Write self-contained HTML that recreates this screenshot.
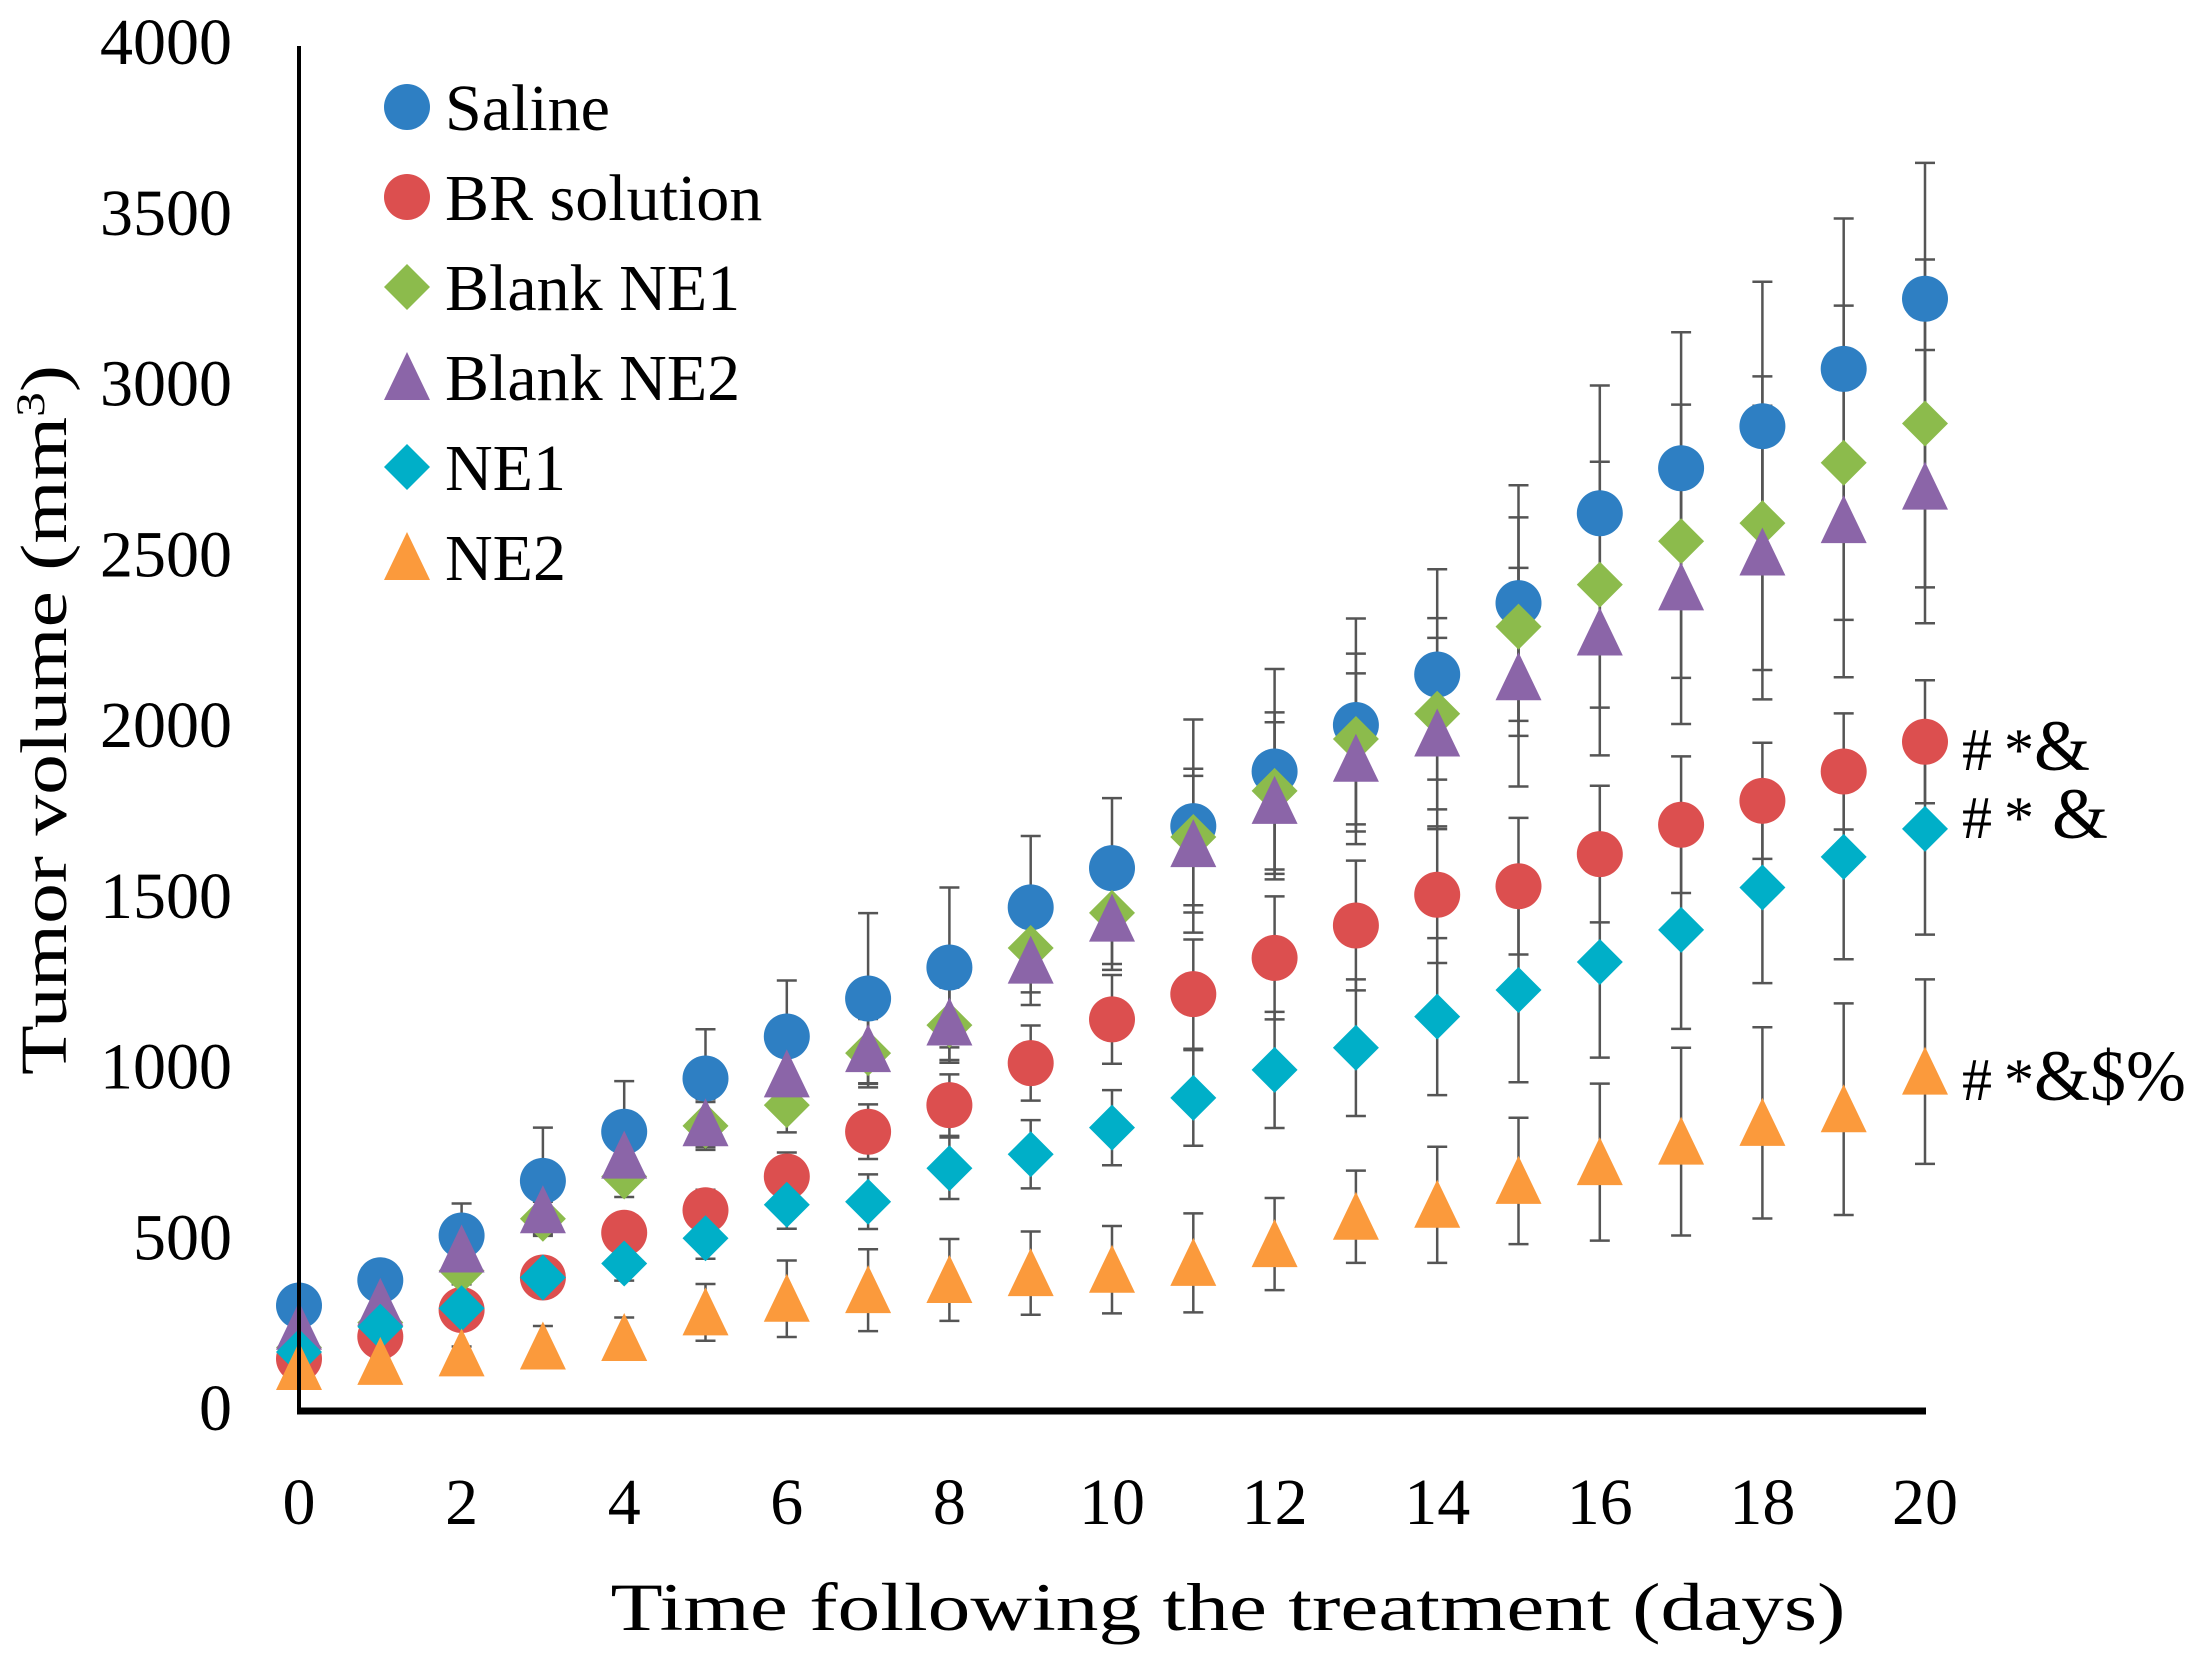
<!DOCTYPE html>
<html><head><meta charset="utf-8">
<style>
html,body{margin:0;padding:0;background:#fff;}
svg{display:block;font-family:"Liberation Serif",serif;}
</style></head>
<body>
<svg id="chart" width="2201" height="1667" viewBox="0 0 2201 1667" xmlns="http://www.w3.org/2000/svg">
<rect width="2201" height="1667" fill="#fff"/>
<g id="errs"></g>
<g id="marks"></g>
<line x1="299" y1="46" x2="299" y2="1411" stroke="#000" stroke-width="4"/>
<line x1="297" y1="1411" x2="1926" y2="1411" stroke="#000" stroke-width="7"/>
<g id="yticks"></g>
<g id="xticks"></g>
<text x="66" y="720" font-size="66" text-anchor="middle" transform="rotate(-90 66 720)" textLength="710" lengthAdjust="spacingAndGlyphs">Tumor volume (mm<tspan baseline-shift="super" font-size="40">3</tspan>)</text>
<text x="1228" y="1630" font-size="68" text-anchor="middle" textLength="1235" lengthAdjust="spacingAndGlyphs">Time following the treatment (days)</text>
<g id="legend"></g>
<g font-size="60">
<text x="1962" y="770">#<tspan dx="12">*</tspan><tspan font-size="72">&amp;</tspan></text>
<text x="1962" y="838">#<tspan dx="12">*</tspan><tspan dx="18" font-size="72">&amp;</tspan></text>
<text x="1962" y="1100">#<tspan dx="12">*</tspan><tspan font-size="72">&amp;$%</tspan></text>
</g>
</svg>
<script>
const days = [0,1,2,3,4,5,6,7,8,9,10,11,12,13,14,15,16,17,18,19,20];
const yTicks = [0,500,1000,1500,2000,2500,3000,3500,4000];
const xTicks = [0,2,4,6,8,10,12,14,16,18,20];
const salineVals = [300,374,505,665,809,965,1088,1199,1290,1466,1581,1704,1864,2000,2148,2357,2620,2752,2875,3043,3248];
const salineErr = [20,25,94,156,148,144,164,250,234,209,205,312,300,312,308,345,374,398,423,440,398];
const brVals = [144,209,287,382,513,579,678,809,887,1010,1138,1212,1318,1413,1503,1528,1622,1708,1778,1864,1951];
const brErr = [20,25,30,40,50,60,70,80,90,110,130,160,180,190,200,200,200,200,170,170,180];
const blank1Vals = [177,250,402,554,678,826,887,1039,1121,1347,1450,1672,1807,1959,2033,2288,2411,2538,2591,2768,2883];
const blank1Err = [20,25,40,50,60,70,80,100,110,130,150,200,230,250,280,320,360,400,430,460,480];
const blank2Vals = [238,308,464,579,739,834,977,1051,1129,1310,1433,1651,1778,1901,1975,2140,2271,2403,2505,2600,2698];
const blank2Err = [20,25,40,50,60,70,80,100,110,130,150,200,230,250,280,320,360,400,430,460,400];
const ne1Vals = [164,238,292,382,423,497,595,604,702,743,821,908,990,1055,1146,1224,1306,1400,1524,1614,1696];
const ne1Err = [20,25,30,40,50,60,70,80,90,100,110,140,170,200,230,270,280,290,280,300,310];
const ne2Vals = [120,135,160,180,205,280,320,345,375,395,405,425,480,560,595,665,720,780,835,875,985];
const ne2Err = [10,15,20,60,60,83,112,120,120,122,128,145,135,135,170,185,230,275,280,310,270];

const X = d => 299 + d * (1925 - 299) / 20;
const Y = v => 1408 - v * 0.3415;
const NS = "http://www.w3.org/2000/svg";
function mk(tag, attrs, parent){
  const e = document.createElementNS(NS, tag);
  for (const k in attrs) e.setAttribute(k, attrs[k]);
  parent.appendChild(e); return e;
}
function marker(shape, cx, cy, color, parent){
  const r = 23; let e;
  if (shape === 'circle') e = mk('circle', {cx:cx, cy:cy, r:r, fill:color}, parent);
  else if (shape === 'diamond') e = mk('polygon', {points:`${cx},${cy-r} ${cx+r},${cy} ${cx},${cy+r} ${cx-r},${cy}`, fill:color}, parent);
  else e = mk('polygon', {points:`${cx},${cy-r-2} ${cx+r},${cy+r} ${cx-r},${cy+r}`, fill:color}, parent);
  return e;
}
const series = [
  {name:'Saline', vals:salineVals, err:salineErr, color:'#2e7fc3', shape:'circle', key:'saline'},
  {name:'BR solution', vals:brVals, err:brErr, color:'#dc4f4f', shape:'circle', key:'br-solution'},
  {name:'Blank NE1', vals:blank1Vals, err:blank1Err, color:'#8cbb4c', shape:'diamond', key:'blank-ne1'},
  {name:'Blank NE2', vals:blank2Vals, err:blank2Err, color:'#8b65a8', shape:'triangle', key:'blank-ne2'},
  {name:'NE1', vals:ne1Vals, err:ne1Err, color:'#00afc8', shape:'diamond', key:'ne1'},
  {name:'NE2', vals:ne2Vals, err:ne2Err, color:'#fb9a3c', shape:'triangle', key:'ne2'}
];
const errs = document.getElementById('errs'), marks = document.getElementById('marks');
series.forEach(s => {
  s.vals.forEach((v,i) => {
    const x = X(days[i]), e = s.err[i];
    const g = mk('g', {stroke:'#555', 'stroke-width':2.5}, errs);
    
    
    mk('line', {x1:x, y1:Y(v+e), x2:x, y2:Y(v-e)}, g);
    mk('line', {x1:x-10, y1:Y(v+e), x2:x+10, y2:Y(v+e)}, g);
    mk('line', {x1:x-10, y1:Y(v-e), x2:x+10, y2:Y(v-e)}, g);
  });
});
series.forEach(s => {
  s.vals.forEach((v,i) => {
    const m = marker(s.shape, X(days[i]), Y(v), s.color, marks);
    
    
  });
});
const yt = document.getElementById('yticks');
yTicks.forEach(t => {
  const e = mk('text', {x:232, y:Y(t)+22, 'font-size':66, 'text-anchor':'end'}, yt);
  e.textContent = t;
  
  
});
const xt = document.getElementById('xticks');
xTicks.forEach(t => {
  const e = mk('text', {x:X(t), y:1524, 'font-size':66, 'text-anchor':'middle'}, xt);
  e.textContent = t;
  
  
});
const lg = document.getElementById('legend');
series.forEach((s,i) => {
  const y = 107 + i * 90;
  const g = mk('g', {}, lg);
  
  
  const m = marker(s.shape, 407, y, s.color, g);
  
  
  const t = mk('text', {x:445, y:y+23, 'font-size':66}, g);
  t.textContent = s.name;
  
  
});
</script>
</body></html>
